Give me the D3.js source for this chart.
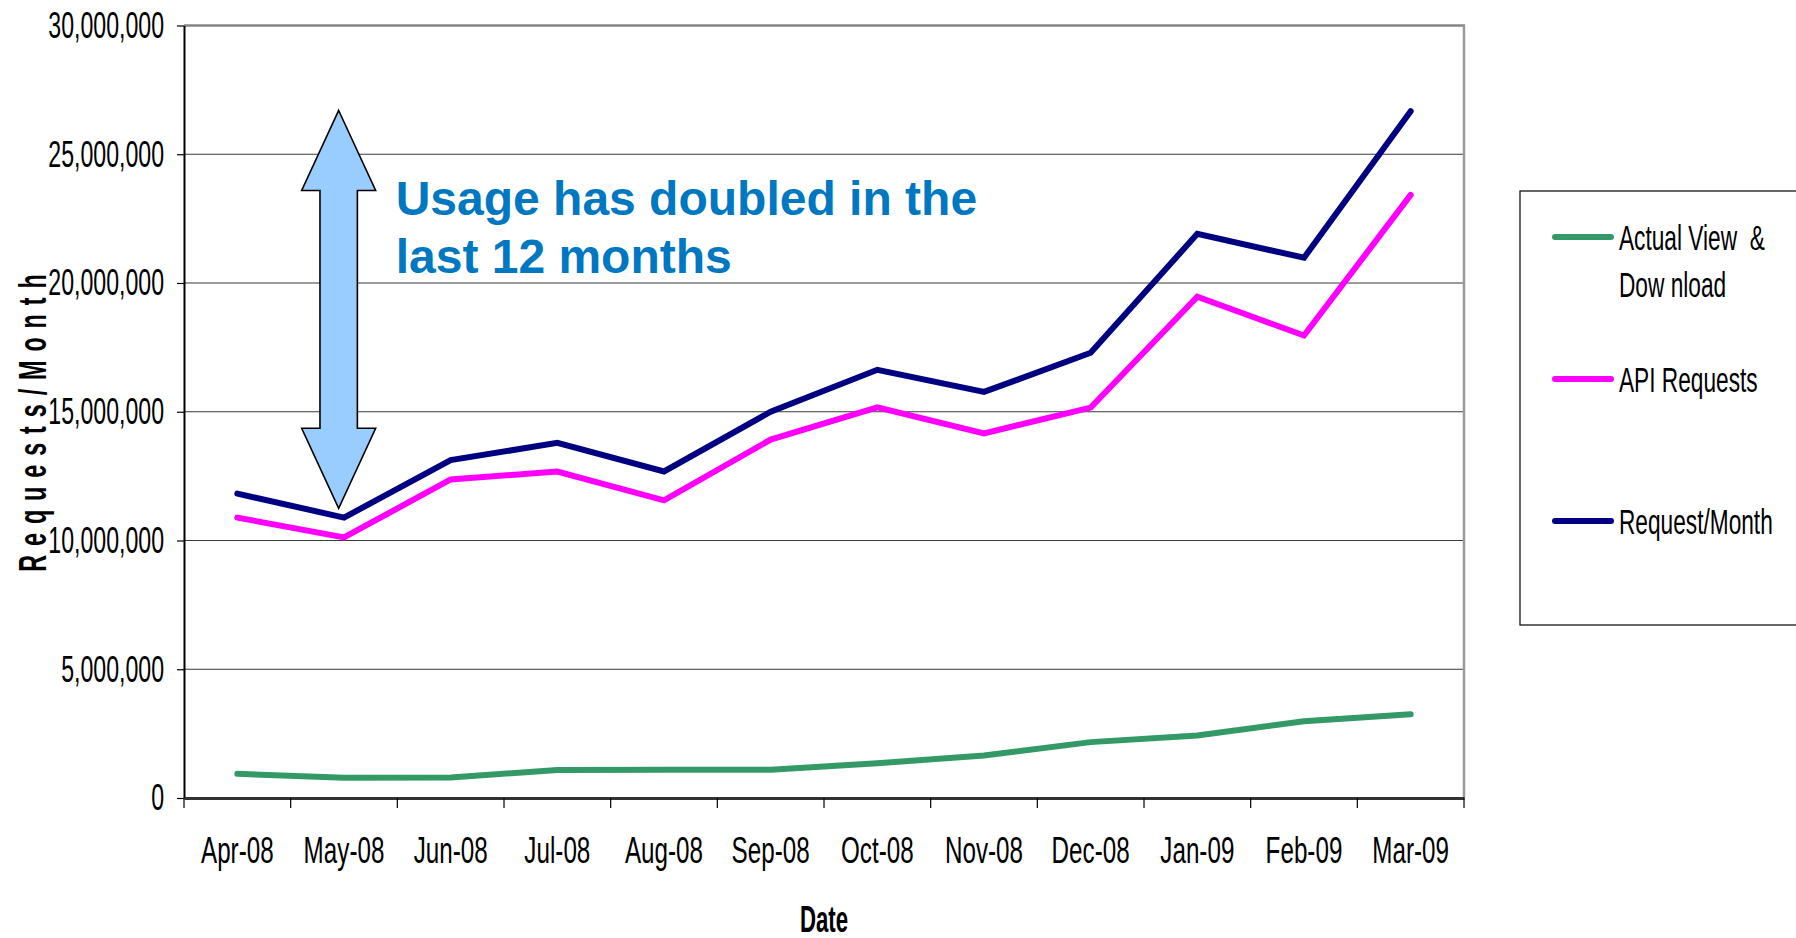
<!DOCTYPE html>
<html><head><meta charset="utf-8">
<script src="https://cdn.jsdelivr.net/npm/d3@7/dist/d3.min.js"></script>
<style>
body{margin:0;background:#fff;overflow:hidden}
svg{display:block}
text{font-family:"Liberation Sans",Arial,sans-serif}
</style>
</head><body>
<svg id="chart" width="1796" height="938"></svg>
<script>
// ---- data ----
const months = ["Apr-08","May-08","Jun-08","Jul-08","Aug-08","Sep-08","Oct-08","Nov-08","Dec-08","Jan-09","Feb-09","Mar-09"];
const actualView   = [940000, 790000, 800000, 1090000, 1100000, 1100000, 1350000, 1650000, 2170000, 2430000, 2980000, 3250000];
const apiRequests  = [10890000, 10120000, 12370000, 12680000, 11560000, 13920000, 15170000, 14160000, 15160000, 19470000, 17960000, 23420000];
const requestMonth = [11820000, 10890000, 13120000, 13790000, 12680000, 15000000, 16630000, 15770000, 17290000, 21910000, 20980000, 26670000];
const yTicks = [0, 5000000, 10000000, 15000000, 20000000, 25000000, 30000000];
const seriesNames = [["Actual View  &", "Dow nload"], ["API Requests"], ["Request/Month"]];
const seriesColors = ["#339966", "#FF00FF", "#000080"];
const yTitle = "Requests/Month";
const xTitle = "Date";
const noteLines = ["Usage has doubled in the", "last 12 months"];
const arrowTopValue = 26700000, arrowBottomValue = 11250000;

// ---- layout ----
const svg = d3.select("#chart");
const L = 184, R = 1464, T = 25.5, B = 798;
const x = d3.scaleBand().domain(months).range([L, R]).padding(0);
const y = d3.scaleLinear().domain([0, 30000000]).range([B, T]);
const cx = m => x(m) + x.bandwidth() / 2;

function condense(sel, sx) {
  sel.each(function () {
    const t = d3.select(this);
    const tx = +t.attr("x") || 0;
    const ty = +t.attr("y") || 0;
    t.attr("x", 0).attr("y", 0).attr("transform", `translate(${tx},${ty}) scale(${sx},1)`);
  });
}

// gridlines
svg.append("g").selectAll("line").data(yTicks.filter(v => v > 0 && v < 30000000)).join("line")
  .attr("x1", L).attr("x2", R).attr("y1", d => y(d)).attr("y2", d => y(d))
  .attr("stroke", "#3a3a3a").attr("stroke-width", 1.2);
// top and right borders
svg.append("line").attr("x1", L).attr("x2", R + 1).attr("y1", y(30000000)).attr("y2", y(30000000))
  .attr("stroke", "#858585").attr("stroke-width", 2.5);
svg.append("line").attr("x1", R).attr("x2", R).attr("y1", T).attr("y2", B)
  .attr("stroke", "#999").attr("stroke-width", 2.5);

// y axis
const yAxis = svg.append("g").attr("transform", `translate(${L},0)`)
  .call(d3.axisLeft(y).tickValues(yTicks).tickSize(7).tickSizeOuter(0).tickPadding(13).tickFormat(d3.format(",")));
yAxis.select(".domain").attr("stroke", "#000").attr("stroke-width", 2);
yAxis.selectAll(".tick line").attr("stroke", "#000").attr("stroke-width", 1.2);
yAxis.selectAll("text").attr("font-size", 37).attr("fill", "#000").style("font-family", '"Liberation Sans",Arial,sans-serif');
condense(yAxis.selectAll("text"), 0.625);

// x axis
const xAxis = svg.append("g").attr("transform", `translate(0,${B})`)
  .call(d3.axisBottom(x).tickSize(0).tickSizeOuter(0).tickPadding(39));
xAxis.select(".domain").attr("stroke", "#333").attr("stroke-width", 3);
xAxis.selectAll("text").attr("font-size", 37).attr("fill", "#000").style("font-family", '"Liberation Sans",Arial,sans-serif');
condense(xAxis.selectAll("text"), 0.655);
const bounds = months.map(m => x(m)).concat([x(months[months.length - 1]) + x.bandwidth()]);
xAxis.append("g").selectAll("line").data(bounds).join("line")
  .attr("x1", d => d).attr("x2", d => d).attr("y1", 0).attr("y2", 10)
  .attr("stroke", "#000").attr("stroke-width", 1.2);

// series
const seriesData = [actualView, apiRequests, requestMonth];
const line = d3.line().x((d, i) => cx(months[i])).y(d => y(d));
svg.append("g").selectAll("path").data(seriesData).join("path")
  .attr("d", d => line(d)).attr("fill", "none")
  .attr("stroke", (d, i) => seriesColors[i]).attr("stroke-width", 6)
  .attr("stroke-linecap", "round").attr("stroke-linejoin", "miter");

// double arrow annotation
const ax = x("May-08") + x.bandwidth() * 0.45;
const yt = y(arrowTopValue), yb = y(arrowBottomValue);
const hw = 37, sw = 18.7, hl = 80;
const arrowPts = [
  [ax, yt], [ax + hw, yt + hl], [ax + sw, yt + hl], [ax + sw, yb - hl], [ax + hw, yb - hl],
  [ax, yb], [ax - hw, yb - hl], [ax - sw, yb - hl], [ax - sw, yt + hl], [ax - hw, yt + hl]
];
svg.append("path").attr("d", "M" + arrowPts.map(p => p.join(",")).join("L") + "Z")
  .attr("fill", "#99CCFF").attr("stroke", "#000").attr("stroke-width", 1.6).attr("stroke-linejoin", "miter");

const note = svg.append("text").attr("font-size", 48).attr("font-weight", "bold").attr("fill", "#0077C1");
noteLines.forEach((t, i) => note.append("tspan").attr("x", ax + 57).attr("y", 215 + i * 58).text(t));

// axis titles
svg.append("text").attr("transform", `translate(46,423) rotate(-90) scale(0.6,1)`)
  .attr("text-anchor", "middle").attr("font-size", 39).attr("font-weight", "bold")
  .attr("textLength", 496).attr("lengthAdjust", "spacing").text(yTitle);
svg.append("text").attr("transform", `translate(${(L + R) / 2},932) scale(0.6,1)`)
  .attr("text-anchor", "middle").attr("font-size", 37).attr("font-weight", "bold").text(xTitle);

// legend
const lg = svg.append("g");
lg.append("rect").attr("x", 1520).attr("y", 191).attr("width", 300).attr("height", 434)
  .attr("fill", "#fff").attr("stroke", "#000").attr("stroke-width", 1.2);
const legendY = [237, 379, 521];
seriesNames.forEach((names, i) => {
  lg.append("line").attr("x1", 1555).attr("x2", 1611).attr("y1", legendY[i]).attr("y2", legendY[i])
    .attr("stroke", seriesColors[i]).attr("stroke-width", 6).attr("stroke-linecap", "round");
  names.forEach((n, j) => {
    lg.append("text").attr("transform", `translate(1619,${legendY[i] + j * 47}) scale(0.63,1)`)
      .attr("dy", "0.36em").attr("font-size", 36).attr("fill", "#000")
      .style("white-space", "pre").text(n);
  });
});
</script>
</body></html>
